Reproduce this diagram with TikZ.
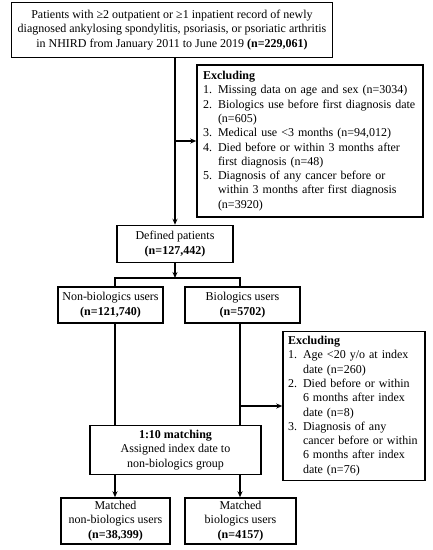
\documentclass[tikz,border=0pt]{standalone}
\usepackage{fontspec}
\setmainfont{Liberation Serif}
\usepackage{tikz}
\usetikzlibrary{positioning}
\usetikzlibrary{calc}
\usetikzlibrary{arrows.meta}
\tikzset{box/.style={draw, line width=1.5pt, align=center, inner sep=3pt, font=\fontsize{12}{14.3}\selectfont}}
\tikzset{exbox/.style={box, align=left, inner xsep=6pt}}
\tikzset{arr/.style={line width=1.5pt, -{Stealth[length=6pt,width=5pt]}}}
\tikzset{ln/.style={line width=1.5pt}}
\newenvironment{exlist}{\begin{tabular}{@{}p{15pt}@{}l@{}}\multicolumn{2}{@{}l@{}}{\textbf{Excluding}}\\}{\end{tabular}}

\begin{document}
\begin{tikzpicture}[x=1pt, y=-1pt]
\useasboundingbox (0,0) rectangle (433,550);
\coordinate (colL) at (115,0);
\coordinate (colR) at (240,0);
\node[box, minimum width=321pt, minimum height=55pt] (start) at (172,30) {Patients with ≥2 outpatient or ≥1 inpatient record of newly\\diagnosed ankylosing spondylitis, psoriasis, or psoriatic arthritis\\in NHIRD from January 2011 to June 2019 \textbf{(n=229,061)}};
\node[exbox, text width=214pt, minimum height=152pt] (excl1) at (310,141) {\begin{exlist}
1. & Missing data on age and sex (n=3034)\\
2. & Biologics use before first diagnosis date\\
   & (n=605)\\
3. & Medical use <3 months (n=94,012)\\
4. & Died before or within 3 months after\\
   & first diagnosis (n=48)\\
5. & Diagnosis of any cancer before or\\
   & within 3 months after first diagnosis\\
   & (n=3920)
\end{exlist}};
\node[box, minimum width=116pt, minimum height=37pt] (defined) at (175,244) {Defined patients\\\textbf{(n=127,442)}};
\coordinate (split) at (175,278);
\node[box, minimum width=105pt, minimum height=36pt] (nonbio) at (110.5,305) {Non-biologics users\\\textbf{(n=121,740)}};
\node[box, minimum width=115pt, minimum height=36pt] (bio) at (242.5,305) {Biologics users\\\textbf{(n=5702)}};
\node[exbox, inner xsep=5pt, text width=132pt, minimum height=148pt] (excl2) at (354,406) {\begin{exlist}
1. & Age <20 y/o at index\\
   & date (n=260)\\
2. & Died before or within\\
   & 6 months after index\\
   & date (n=8)\\
3. & Diagnosis of any\\
   & cancer before or within\\
   & 6 months after index\\
   & date (n=76)
\end{exlist}};
\node[box, minimum width=171pt, minimum height=49pt] (match) at (175.5,450) {\textbf{1:10 matching}\\Assigned index date to\\non-biologics group};
\node[box, minimum width=109pt, minimum height=46pt] (mnon) at (115.5,521) {Matched\\non-biologics users\\\textbf{(n=38,399)}};
\node[box, minimum width=111pt, minimum height=46pt] (mbio) at (240.5,521) {Matched\\biologics users\\\textbf{(n=4157)}};
%
\draw[arr] (start.south -| defined) -- (defined.north);
\draw[arr] (excl1.west -| defined) -- (excl1.west);
\draw[arr] (defined.south) -- (split);
\draw[ln] (nonbio.north -| colL) -- (split -| colL) -- (split -| colR) -- (bio.north -| colR);
\draw[ln] (nonbio.south -| colL) -- (match.north -| colL);
\draw[ln] (bio.south -| colR) -- (match.north -| colR);
\draw[arr] (excl2.west -| colR) -- (excl2.west);
\draw[arr] (match.south -| colL) -- (mnon.north -| colL);
\draw[arr] (match.south -| colR) -- (mbio.north -| colR);
\end{tikzpicture}
\end{document}
